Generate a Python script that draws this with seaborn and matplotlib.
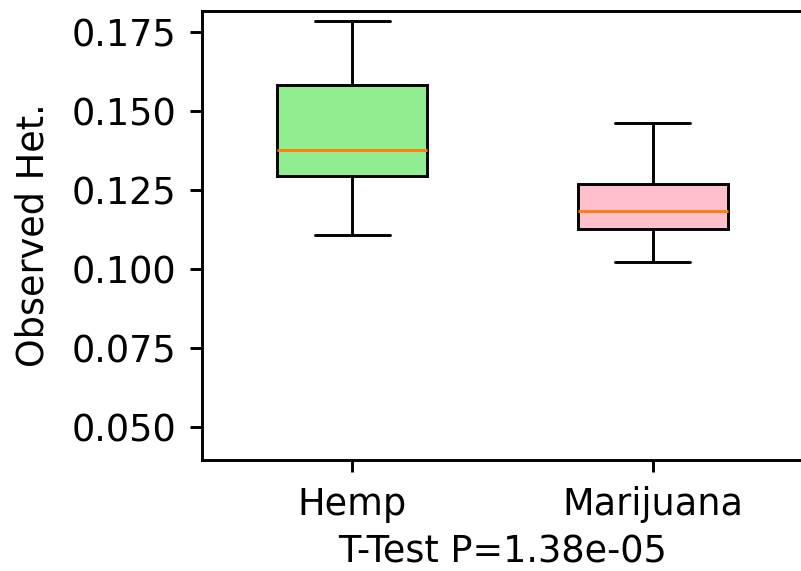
import numpy as np
import pandas as pd
import matplotlib
matplotlib.use("Agg")
import matplotlib.pyplot as plt
import seaborn as sns

# Five-number summaries (min, Q1, median, Q3, max)
groups = ["Hemp", "Marijuana"]
hemp_values = [0.1107, 0.1295, 0.1377, 0.1583, 0.1783]
marijuana_values = [0.1021, 0.1125, 0.1184, 0.1268, 0.1461]
box_colors = ["lightgreen", "pink"]
y_ticks = [0.050, 0.075, 0.100, 0.125, 0.150, 0.175]
x_title = "T-Test P=1.38e-05"
y_title = "Observed Het."

df = pd.DataFrame({
    "group": [groups[0]] * len(hemp_values) + [groups[1]] * len(marijuana_values),
    "value": hemp_values + marijuana_values,
})

sns.set_style("white")
plt.rcParams["font.family"] = ["DejaVu Sans"]
plt.rcParams["text.color"] = "black"
plt.rcParams["axes.labelcolor"] = "black"
plt.rcParams["xtick.color"] = "black"
plt.rcParams["ytick.color"] = "black"

DPI = 200
fig = plt.figure(figsize=(801 / DPI, 571 / DPI), dpi=DPI)
ax = fig.add_axes([202 / 801, (571 - 460) / 571, 601 / 801, 449 / 571])

lw = 1.05
fs = 13.2
sns.boxplot(
    data=df, x="group", y="value", hue="group", palette=box_colors,
    legend=False, width=0.5, saturation=1, linecolor="black", linewidth=lw,
    whis=1.5, ax=ax,
    medianprops={"color": "#ff7f0e", "linewidth": lw},
)

ax.set_xlim(-0.5, 1.5)
ax.set_ylim(0.0396, 0.1816)
ax.set_yticks(y_ticks)
ax.set_yticklabels([f"{t:.3f}" for t in y_ticks])
ax.set_xlabel(x_title, fontsize=fs, labelpad=4, color="black")
ax.set_ylabel(y_title, fontsize=fs, labelpad=7, color="black")
ax.tick_params(axis="both", labelsize=fs, length=4.3, width=lw, color="black",
               labelcolor="black", left=True, bottom=True, pad=5)
for s in ax.spines.values():
    s.set_visible(True)
    s.set_color("black")
    s.set_linewidth(lw)

fig.savefig("out.png", dpi=DPI)
